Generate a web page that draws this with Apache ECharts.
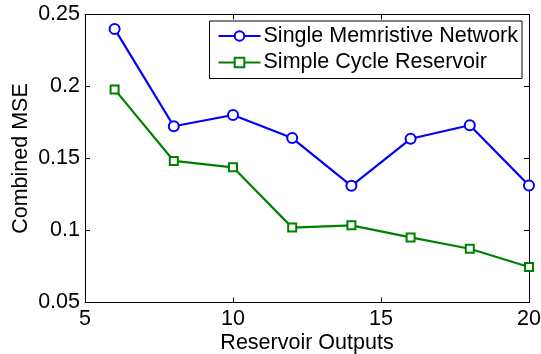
<!DOCTYPE html>
<html>
<head>
<meta charset="utf-8">
<script src="https://cdn.jsdelivr.net/npm/echarts@6/dist/echarts.min.js"></script>
<style>
html,body{margin:0;padding:0;background:#fff;}
#chart{width:541px;height:354px;}
</style>
</head>
<body>
<div id="chart"></div>
<script>
/* reservoir outputs vs combined MSE, two models */
var outputs = [6, 8, 10, 12, 14, 16, 18, 20];
var memristiveMSE = [0.240, 0.1724, 0.1802, 0.1642, 0.1310, 0.1637, 0.1731, 0.1312];
var cycleMSE = [0.198, 0.1483, 0.1439, 0.1020, 0.1036, 0.0952, 0.0873, 0.0747];
var seriesNames = ["Single Memristive Network", "Simple Cycle Reservoir"];

var FONT = "'Liberation Sans', Arial, Helvetica, sans-serif";
var FS = 21.5;
var BLACK = "#000";
function pairs(ys){ return outputs.map(function(x,i){ return [x, ys[i]]; }); }
function fmtY(v){ return String(parseFloat((+v).toFixed(2))); }

var axisBase = {
  axisLine:{ show:true, onZero:false, lineStyle:{ color:BLACK, width:1 } },
  axisTick:{ show:true, inside:true, length:5, lineStyle:{ color:BLACK, width:1 } },
  splitLine:{ show:false },
  nameMoveOverlap:false
};
function xAx(pos, labels){
  return Object.assign({}, axisBase, {
    type:"value", position:pos, min:5, max:20, interval:5,
    axisLabel:{ show:labels, color:BLACK, fontFamily:FONT, fontSize:FS, margin:6 },
    name: labels ? "Reservoir Outputs" : "", nameLocation:"middle", nameGap:30,
    nameTextStyle:{ color:BLACK, fontFamily:FONT, fontSize:FS }
  });
}
function yAx(pos, labels){
  return Object.assign({}, axisBase, {
    type:"value", position:pos, min:0.05, max:0.25, interval:0.05,
    axisLabel:{ show:labels, color:BLACK, fontFamily:FONT, fontSize:FS, margin:5, formatter:fmtY },
    name: labels ? "Combined MSE" : "", nameLocation:"middle", nameGap:53, nameRotate:90,
    nameTextStyle:{ color:BLACK, fontFamily:FONT, fontSize:FS }
  });
}

var ch = echarts.init(document.getElementById("chart"), null, {renderer:"canvas"});
ch.setOption({
  animation:false,
  backgroundColor:"#fff",
  textStyle:{ fontFamily:FONT },
  grid:{ left:85, right:12, top:14.5, bottom:51.5, containLabel:false, outerBoundsMode:"none" },
  xAxis:[ xAx("bottom", true), xAx("top", false) ],
  yAxis:[ yAx("left", true), yAx("right", false) ],
  legend:{
    orient:"vertical", right:19, top:21,
    itemWidth:42, itemHeight:12, itemGap:4.5,
    padding:[4, 4, 5, 8],
    backgroundColor:"#fff", borderColor:BLACK, borderWidth:1, borderRadius:0,
    textStyle:{ color:BLACK, fontFamily:FONT, fontSize:FS, padding:[0,0,0,-2] },
    data:seriesNames
  },
  series:[
    { type:"line", name:seriesNames[0], data:pairs(memristiveMSE),
      xAxisIndex:0, yAxisIndex:0,
      symbol:"circle", symbolSize:10,
      lineStyle:{ color:"#0000ff", width:2.2 },
      itemStyle:{ color:"#fff", borderColor:"#0000ff", borderWidth:2 },
      emphasis:{ disabled:true } },
    { type:"line", name:seriesNames[1], data:pairs(cycleMSE),
      xAxisIndex:0, yAxisIndex:0,
      symbol:"rect", symbolSize:8,
      lineStyle:{ color:"#008000", width:2.2 },
      itemStyle:{ color:"#fff", borderColor:"#008000", borderWidth:2 },
      emphasis:{ disabled:true } }
  ]
});
</script>
</body>
</html>
